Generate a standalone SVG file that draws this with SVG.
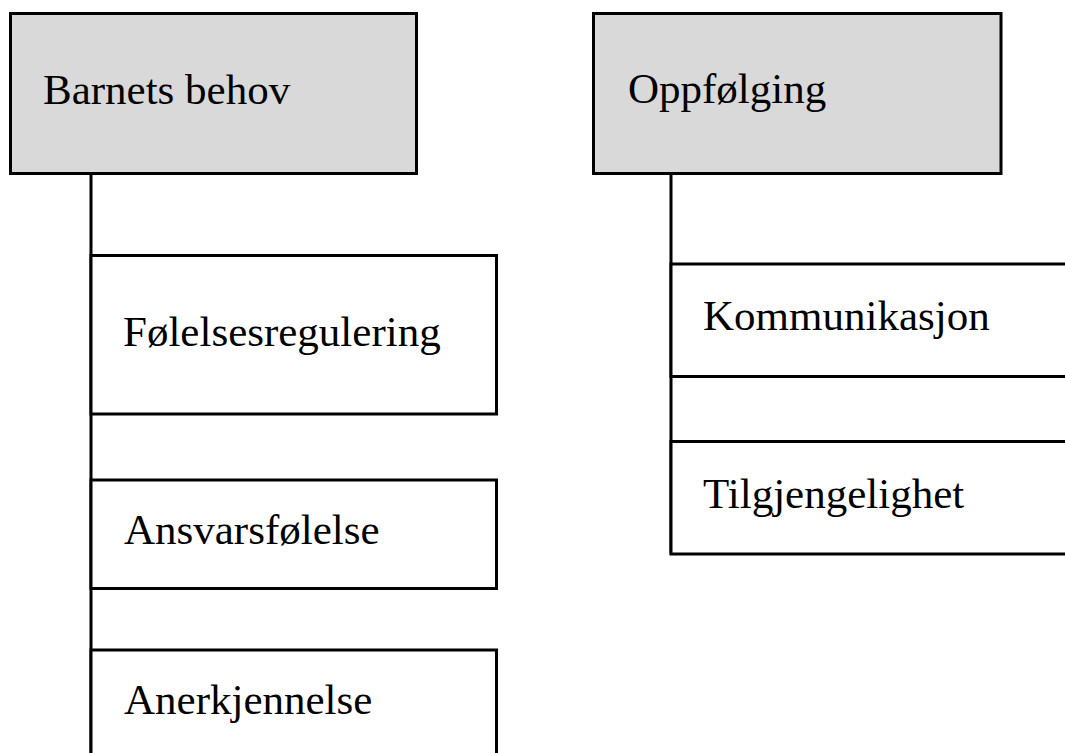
<svg xmlns="http://www.w3.org/2000/svg" width="1065" height="753" viewBox="0 0 1065 753">
<style>
.head{fill:#d9d9d9;stroke:#000;stroke-width:3}
.box{fill:#fff;stroke:#000;stroke-width:3}
.conn{stroke:#000;stroke-width:3;fill:none}
text{font-family:"Liberation Serif","Times New Roman",serif;font-size:43px;fill:#000}
</style>
<rect width="1065" height="753" fill="#fff"/>
<g id="connectors">
<line class="conn" x1="91" y1="173" x2="91" y2="760"/>
<line class="conn" x1="671" y1="173" x2="671" y2="554"/>
</g>
<g id="barnets-behov">
<rect class="head" x="10.5" y="13.5" width="406" height="160"/>
<text x="43" y="104">Barnets behov</text>
</g>
<g id="folelsesregulering">
<rect class="box" x="91" y="255.5" width="405.5" height="158.5"/>
<text x="123" y="346">Følelsesregulering</text>
</g>
<g id="ansvarsfolelse">
<rect class="box" x="91" y="480" width="405.5" height="108.5"/>
<text x="124" y="544">Ansvarsfølelse</text>
</g>
<g id="anerkjennelse">
<rect class="box" x="91" y="650" width="405.5" height="120"/>
<text x="124" y="714">Anerkjennelse</text>
</g>
<g id="oppfolging">
<rect class="head" x="593.5" y="13.5" width="407.5" height="160"/>
<text x="628" y="103">Oppfølging</text>
</g>
<g id="kommunikasjon">
<rect class="box" x="671" y="264" width="410" height="112.5"/>
<text x="703" y="330">Kommunikasjon</text>
</g>
<g id="tilgjengelighet">
<rect class="box" x="671" y="441.5" width="410" height="112.5"/>
<text x="703" y="508">Tilgjengelighet</text>
</g>
</svg>
